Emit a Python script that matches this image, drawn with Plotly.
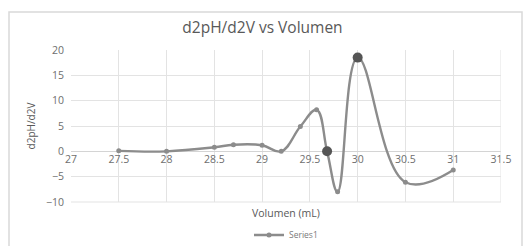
import plotly.graph_objects as go

volumen = [27.5, 28.0, 28.5, 28.7, 29.0, 29.2, 29.4, 29.57, 29.68, 29.79, 30.0, 30.5, 31.0]
d2 = [0.1, 0.0, 0.8, 1.3, 1.2, 0.0, 4.9, 8.2, 0.0, -8.0, 18.5, -6.1, -3.7]
highlight_x = [29.68, 30.0]
highlight_y = [0.0, 18.5]
x_ticks = [27, 27.5, 28, 28.5, 29, 29.5, 30, 30.5, 31, 31.5]
y_ticks = [-10, -5, 0, 5, 10, 15, 20]

W, H = 525, 246
L, R, T, B = 71, 24, 50, 44
ymin, ymax = -10, 20

fig = go.Figure()
fig.add_trace(go.Scatter(
    x=volumen, y=d2, mode="lines+markers", name="Series1",
    line=dict(color="#8c8c8c", width=2.4, shape="spline", smoothing=1.15),
    marker=dict(color="#8c8c8c", size=5),
))
fig.add_trace(go.Scatter(
    x=highlight_x, y=highlight_y, mode="markers", showlegend=False,
    marker=dict(color="#555555", size=10),
))

grid = "#e3e3e3"
tickfont = dict(family="Open Sans, DejaVu Sans", size=10.5, color="#6e6e6e")
fig.update_layout(
    width=W, height=H,
    margin=dict(l=L, r=R, t=T, b=B, autoexpand=False),
    paper_bgcolor="white", plot_bgcolor="white",
    title=dict(text="d2pH/d2V vs Volumen", x=0.5, xanchor="center", y=1 - 28 / H, yanchor="middle",
               font=dict(family="Open Sans, DejaVu Sans", size=15.5, color="#595959")),
    xaxis=dict(range=[27, 31.5], tickvals=x_ticks, ticktext=[f"{v:g}" for v in x_ticks],
               showgrid=True, gridcolor=grid, gridwidth=1, zeroline=False,
               showline=False, ticks="", tickfont=tickfont,
               anchor="free", position=(0 - ymin) / (ymax - ymin)),
    yaxis=dict(range=[ymin, ymax], tickvals=y_ticks, showgrid=True, gridcolor=grid, gridwidth=1,
               zeroline=True, zerolinecolor="#d4d4d4", zerolinewidth=1,
               ticks="", tickfont=tickfont, ticklabelstandoff=6,
               title=dict(text="d2pH/d2V", standoff=8,
                          font=dict(family="Open Sans, DejaVu Sans", size=10, color="#595959"))),
    showlegend=True,
    legend=dict(orientation="h", x=0.5, xanchor="center", y=-(235 - (H - B)) / (H - T - B), yanchor="middle",
                font=dict(family="Open Sans, DejaVu Sans", size=8.5, color="#7a7a7a"),
                bgcolor="rgba(0,0,0,0)", itemwidth=30),
    shapes=[
        dict(type="line", xref="x", yref="paper", x0=31.5, x1=31.5, y0=0, y1=1, line=dict(color=grid, width=1)),
        dict(type="line", xref="x", yref="paper", x0=27, x1=31.5, y0=0, y1=0, line=dict(color=grid, width=1)),
        dict(type="rect", xref="paper", yref="paper",
             x0=-(L - 9) / (W - L - R), x1=1 + (R - 3) / (W - L - R),
             y0=-(B + 2) / (H - T - B), y1=1 + (T - 12) / (H - T - B),
             line=dict(color="#d9d9d9", width=1.5), layer="below"),
    ],
    annotations=[
        dict(text="Volumen (mL)", xref="paper", yref="paper", x=0.5, y=-(213 - (H - B)) / (H - T - B),
             xanchor="center", yanchor="middle", showarrow=False,
             font=dict(family="Open Sans, DejaVu Sans", size=10.5, color="#595959")),
    ],
)

fig.write_html("out.html", config={"displayModeBar": False},
               post_script="document.body.style.margin='0';document.body.style.overflow='hidden';")
